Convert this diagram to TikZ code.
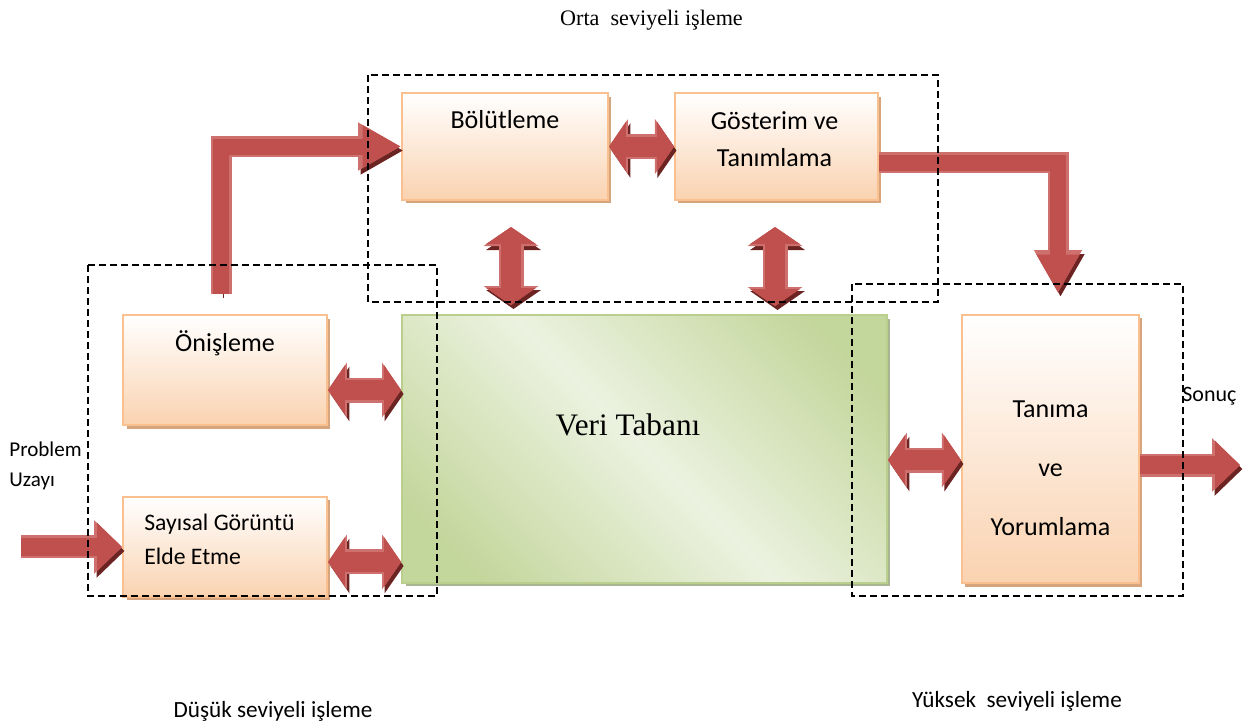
\documentclass[tikz,border=0pt]{standalone}
\usepackage{fontspec}
\setmainfont{Liberation Serif}
\newfontfamily\calibri{Carlito}
\usepackage{tikz}
\usetikzlibrary{positioning,arrows.meta,shadows}

\definecolor{boxedge}{RGB}{250,192,144}
\definecolor{boxpeach}{RGB}{250,210,176}
\definecolor{boxshadow}{RGB}{214,165,126}
\definecolor{vgreen}{RGB}{195,214,155}
\definecolor{vlight}{RGB}{236,242,224}
\definecolor{vedge}{RGB}{186,206,142}
\definecolor{vshadow}{RGB}{168,180,146}
\definecolor{arrowred}{RGB}{192,80,77}
\definecolor{arrowlight}{RGB}{206,112,110}
\definecolor{arrowdark}{RGB}{108,36,34}

\pgfdeclarehorizontalshading{veriband}{100bp}{color(0bp)=(vgreen); color(22bp)=(vgreen); color(50bp)=(vlight); color(78bp)=(vgreen); color(100bp)=(vgreen)}

\begin{document}
\begin{tikzpicture}[x=0.02cm, y=-0.02cm, node distance=1.3cm,
    box/.style={rectangle, draw=boxedge, line width=0.04cm, inner sep=0, top color=white, bottom color=boxpeach,
      drop shadow={shadow xshift=0.07cm, shadow yshift=-0.07cm, fill=boxshadow, opacity=1}},
    dbbox/.style={rectangle, draw=vedge, line width=0.04cm, inner sep=0, shade, shading=veriband, shading angle=45,
      drop shadow={shadow xshift=0.07cm, shadow yshift=-0.07cm, fill=vshadow, opacity=1}},
    lbl/.style={font=\calibri\fontsize{14.8}{21}\selectfont, inner sep=0},
    note/.style={font=\calibri\fontsize{12}{17}\selectfont, inner sep=0},
    level/.style={font=\calibri\fontsize{13.2}{16}\selectfont, inner sep=0},
    group/.style={draw=black, line width=0.028cm, dash pattern=on 0.14cm off 0.08cm},
    onetip/.tip={Triangle[width=1.04cm,length=0.56cm]},
    onecore/.tip={Triangle[width=0.94cm,length=0.5cm]},
    twotip/.tip={Triangle[width=1.08cm,length=0.38cm]},
    twocore/.tip={Triangle[width=0.98cm,length=0.34cm]},
    benttip/.tip={Triangle[width=0.9cm,length=0.86cm]},
    bentcore/.tip={Triangle[width=0.8cm,length=0.77cm]},
    onearrow/.style={line width=0.46cm, draw=arrowlight, -onetip,
      preaction={draw=arrowdark, -onetip, transform canvas={xshift=0.05cm, yshift=-0.08cm}},
      postaction={draw=arrowred, line width=0.36cm, -onecore}},
    twoarrow/.style={line width=0.5cm, draw=arrowlight, twotip-twotip,
      preaction={draw=arrowdark, twotip-twotip, transform canvas={xshift=0.05cm, yshift=-0.08cm}},
      postaction={draw=arrowred, line width=0.4cm, twocore-twocore}},
    bentarrow/.style={line width=0.42cm, draw=arrowlight, line join=miter, -benttip,
      preaction={draw=arrowdark, -benttip, transform canvas={xshift=0.05cm, yshift=-0.08cm}},
      postaction={draw=arrowred, line width=0.32cm, -bentcore}}]

    \useasboundingbox (0,0) rectangle (1258,725);

    % Nodes
    \node [box, minimum width=4.12cm, minimum height=2.14cm] (bolut) at (505,146.5) {};
    \node [box, minimum width=4.06cm, minimum height=2.14cm, right=of bolut] (goster) {};
    \node [box, minimum width=4.08cm, minimum height=2.2cm] (onis) at (225,370) {};
    \node [box, minimum width=4.08cm, minimum height=2.0cm, below=1.4cm of onis] (sayisal) {};
    \node [dbbox, minimum width=9.7cm, minimum height=5.36cm] (veri) at (644.5,449) {};
    \node [box, minimum width=3.54cm, minimum height=5.38cm, right=1.46cm of veri] (tanima) {};

    % Texts
    \node [lbl, anchor=base] (bolut-t) at (505,128) {Bölütleme};
    \node [lbl, anchor=base, align=center] (goster-t) at (774.5,166) {Gösterim ve\\Tanımlama};
    \node [lbl, anchor=base] (onis-t) at (225,351) {Önişleme};
    \node [lbl, font=\calibri\fontsize{13.5}{19.3}\selectfont, anchor=base west, align=left] (sayisal-t) at (144,564) {Sayısal Görüntü\\Elde Etme};
    \node [lbl, font=\calibri\fontsize{14.8}{33.4}\selectfont, anchor=base, align=center] (tanima-t) at (1050.5,535) {Tanıma\\ve\\Yorumlama};
    \node [inner sep=0, font=\fontsize{17.8}{20}\selectfont, anchor=base] (veri-t) at (628,435) {Veri Tabanı};
    \node [note, anchor=base west, align=left] (problem) at (9,486) {Problem\\Uzayı};
    \node [note, font=\calibri\fontsize{12.5}{15}\selectfont, anchor=base west] (sonuc) at (1182,401) {Sonuç};
    \node [inner sep=0, font=\fontsize{12.6}{15}\selectfont, anchor=base] (orta) at (651.5,25) {Orta~ seviyeli işleme};
    \node [level, anchor=base] (dusuk) at (273,717) {Düşük seviyeli işleme};
    \node [level, anchor=base] (yuksek) at (1017,707) {Yüksek~ seviyeli işleme};

    % Free ends
    \path (sayisal.west) ++(-2.02cm,0) coordinate (inp);
    \coordinate (res) at (1240,465);
    \coordinate (pre-up) at (221,294);
    \coordinate (yuk-in) at (1058,293);
    \coordinate (bv1) at (511,227);
    \coordinate (bv2) at (511,305);
    \coordinate (gv1) at (775,227);
    \coordinate (gv2) at (775,306);
    \path ([yshift=-0.4cm]onis.east) coordinate (o1);
    \path ([yshift=-0.3cm]sayisal.east) coordinate (s1);
    \path ([yshift=-0.22cm]veri.east) coordinate (v1);
    \path ([yshift=-0.32cm]goster.east) coordinate (g1);

    % Paths
    \draw [onearrow] (inp) -- (sayisal.west);
    \draw [onearrow] (res -| tanima.east) -- (res);
    \draw [twoarrow] (o1) -- (o1 -| veri.west);
    \draw [twoarrow] (s1) -- (s1 -| veri.west);
    \draw [twoarrow] (v1) -- (v1 -| tanima.west);
    \draw [twoarrow] (bolut.east) -- (goster.west);
    \draw [twoarrow] (bv1) -- (bv2);
    \draw [twoarrow] (gv1) -- (gv2);
    \draw [bentarrow] (pre-up) |- (bolut.west);
    \draw [bentarrow] (g1) -| (yuk-in);

    % Groups
    \draw [group] (368,75) rectangle (938,302);
    \draw [group] (88,265) rectangle (437,596);
    \draw [group] (852,284) rectangle (1183,596);

\end{tikzpicture}
\end{document}
